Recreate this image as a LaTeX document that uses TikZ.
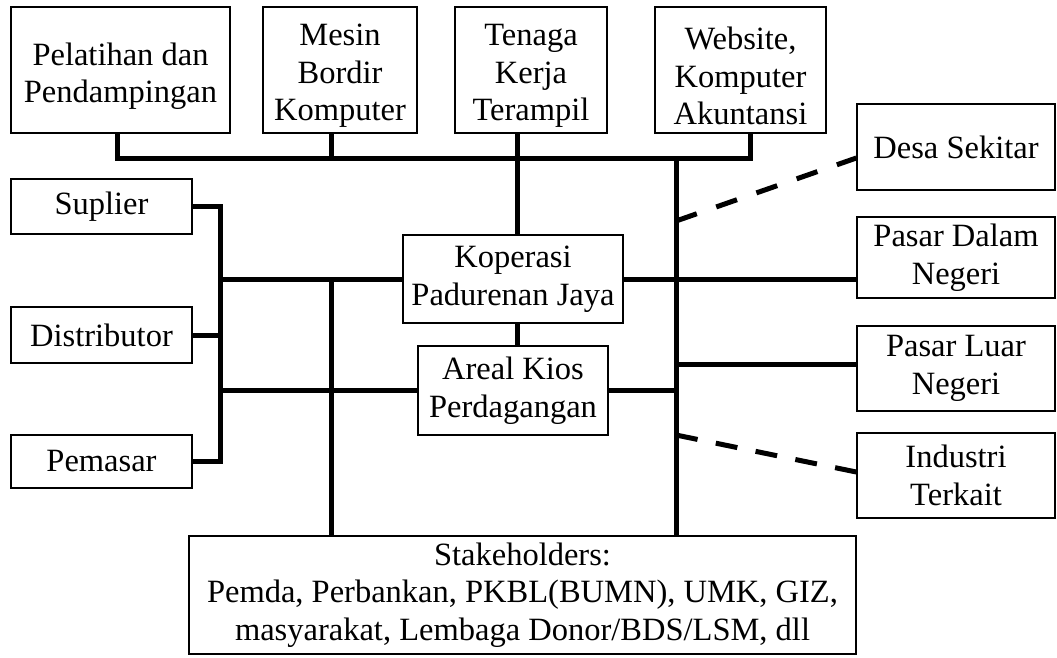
\documentclass[tikz,border=0pt]{standalone}
\usepackage{fontspec}
\setmainfont{Liberation Serif}
\begin{document}
\begin{tikzpicture}[x=1pt,y=-1pt,
  txt/.style={align=center, inner sep=0pt, font=\fontsize{32.5}{37.5}\selectfont},
  box/.style={txt, draw, line width=1.4pt},
  link/.style={line width=5pt},
  weak/.style={line width=5pt, dash pattern=on 22pt off #1}]
\useasboundingbox (0,0) rectangle (1057,657);

% resources along the top (text sits a little low in these boxes)
\node[box, minimum width=219pt, minimum height=126pt] (pel) at (120.5,70) {};
\node[box, minimum width=154pt, minimum height=126pt] (mes) at (340,70) {};
\node[box, minimum width=152pt, minimum height=126pt] (ten) at (531,70) {};
\node[box, minimum width=171pt, minimum height=126pt] (web) at (740.5,70) {};
\node[txt] (pelt) at ([yshift=-6pt]pel.center) {Pelatihan dan\\Pendampingan};
\node[txt] (mest) at ([yshift=-6pt]mes.center) {Mesin\\Bordir\\Komputer};
\node[txt] (tent) at ([yshift=-6pt]ten.center) {Tenaga\\Kerja\\Terampil};
\node[txt] (webt) at ([yshift=-6pt]web.center) {Website,\\Komputer\\Akuntansi};

% partners on the left
\node[box, minimum width=181pt, minimum height=55pt] (sup) at (101.5,206.5) {Suplier};
\node[box, minimum width=181pt, minimum height=56pt] (dist) at (101.5,335) {Distributor};
\node[box, minimum width=181pt, minimum height=53pt] (pem) at (101.5,461.5) {Pemasar};

% centre
\node[box, minimum width=220pt, minimum height=88pt] (kop) at (513,279) {Koperasi\\Padurenan Jaya};
\node[box, minimum width=190pt, minimum height=89pt] (are) at (513,390.5) {Areal Kios\\Perdagangan};

% markets on the right
\node[box, minimum width=198pt, minimum height=86pt] (desa) at (956,147) {Desa Sekitar};
\node[box, minimum width=198pt, minimum height=81pt] (pd) at (956,257.5) {Pasar Dalam\\Negeri};
\node[box, minimum width=198pt, minimum height=85pt] (pl) at (956,368.5) {Pasar Luar\\Negeri};
\node[box, minimum width=198pt, minimum height=85pt] (ind) at (956,475.5) {Industri\\Terkait};

% stakeholders
\node[box, minimum width=667pt, minimum height=118pt] (stk) at (522.5,595)
  {Stakeholders:\\Pemda, Perbankan, PKBL(BUMN), UMK, GIZ,\\masyarakat, Lembaga Donor/BDS/LSM, dll};

% top bus
\coordinate (bl) at (117,158);
\coordinate (br) at (750,158);
\coordinate (mx) at (331,158);
\coordinate (tx) at (517,158);
\coordinate (tr) at (676,158);
\draw[link] (bl |- pel.south) -- (bl) -- (br) -- (br |- web.south);
\draw[link] (mx |- mes.south) -- (mx);
\draw[link] (tx |- ten.south) -- (tx |- kop.north);
\draw[link] (tx |- kop.south) -- (tx |- are.north);

% right trunk
\draw[link] (tr) -- (tr |- stk.north);

% left bracket
\coordinate (bx) at (220,0);
\draw[link] (sup.east) -| (bx |- pem.east) -- (pem.east);
\draw[link] (dist.east) -- (bx |- dist.east);
\draw[link] (bx |- kop.west) -- (kop.west);
\draw[link] (bx |- are.west) -- (are.west);

% left trunk
\coordinate (lx) at (331,0);
\draw[link] (lx |- kop.west) -- (lx |- stk.north);

% links to the right
\coordinate (ply) at (0,364);
\draw[link] (kop.east) -- (kop.east -| pd.west);
\draw[link] (are.east) -- (are.east -| tr);
\draw[link] (tr |- ply) -- (pl.west |- ply);

% loose ties (five dashes each, ending on the box)
\coordinate (d1) at (676,221);
\coordinate (d1e) at (0,158);
\coordinate (d2) at (676,435);
\coordinate (d2e) at (0,472);
\draw[weak=20.6pt] (d1) -- (desa.west |- d1e);
\draw[weak=18.6pt] (d2) -- (ind.west |- d2e);
\end{tikzpicture}
\end{document}
